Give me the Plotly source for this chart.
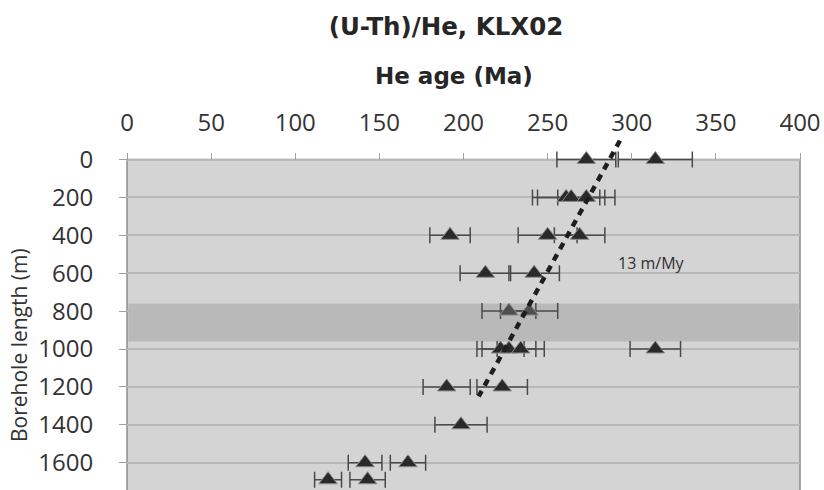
import plotly.graph_objects as go

# ---- data ----
depth_m = [0, 0,
           200, 200, 200,
           400, 400, 400,
           600, 600,
           1000, 1000, 1000, 1000,
           1200, 1200,
           1400,
           1600, 1600,
           1690, 1690]
age_ma = [273, 314,
          261, 264, 273,
          192, 250, 269,
          213, 242,
          222, 227, 234, 314,
          190, 223,
          198.5,
          141.5, 167,
          119.5, 143]
err_ma = [17.5, 22,
          20, 20, 17,
          12, 17.5, 15,
          15, 15,
          14, 16, 14, 15,
          14, 15,
          15.5,
          10, 10.5,
          8, 10.5]

# samples inside the grey zone
band_depth_m = [800, 800]
band_age_ma = [227, 239]
band_err_ma = [16, 17]

# grey zone (borehole interval)
zone_top_m = 760
zone_bottom_m = 960

# regression trend line
trend_age_ma = [293, 209]
trend_depth_m = [-100, 1250]
trend_label = "13 m/My"
trend_label_pos = (312, 546)

x_ticks = [0, 50, 100, 150, 200, 250, 300, 350, 400]
y_ticks = [0, 200, 400, 600, 800, 1000, 1200, 1400, 1600]

x_range = [0, 400]
y_range = [1744, -103]   # reversed depth axis, visible window

title_text = "(U-Th)/He, KLX02"
x_title = "He age (Ma)"
y_title = "Borehole length (m)"

# ---- figure ----
W, H = 824, 490
m_l, m_r, m_t, m_b = 127, 24, 140, 0
plot_w = W - m_l - m_r
plot_h = H - m_t - m_b
axis_px = 159.5  # pixel row of depth 0
x_pos = (H - m_b - axis_px) / plot_h


def px_to_paper_x(px):
    return (px - m_l) / plot_w


def px_to_paper_y(py):
    return (H - m_b - py) / plot_h


fig = go.Figure()

err_style = dict(type="data", symmetric=True, color="#4a4a4a", thickness=1.5, width=8)

fig.add_trace(go.Scatter(
    x=age_ma, y=depth_m, mode="markers",
    error_x=dict(array=err_ma, **err_style),
    marker=dict(symbol="triangle-up", size=16, color="#2a2a2a",
                line=dict(color="#8a8a8a", width=1)),
    showlegend=False, hoverinfo="x+y"))

fig.add_trace(go.Scatter(
    x=band_age_ma, y=band_depth_m, mode="markers",
    error_x=dict(array=band_err_ma, **err_style),
    marker=dict(symbol="triangle-up", size=16, color="#4f4f4f",
                line=dict(color="#909090", width=1)),
    showlegend=False, hoverinfo="x+y"))

fig.add_trace(go.Scatter(
    x=trend_age_ma, y=trend_depth_m, mode="lines", yaxis="y2",
    line=dict(color="#1e1e1e", width=4.5, dash="7px,6px"),
    showlegend=False, hoverinfo="skip"))

# plot area background and grey zone
fig.add_shape(type="rect", xref="x domain", yref="y", x0=0, x1=1,
              y0=0, y1=y_range[0] + 30, layer="below",
              fillcolor="#d4d4d4", line=dict(color="#8c8c8c", width=1.5))
fig.add_shape(type="rect", xref="x domain", yref="y", x0=0.002, x1=0.998,
              y0=zone_top_m, y1=zone_bottom_m, layer="below",
              fillcolor="#b9b9b9", line=dict(width=0))

fig.add_annotation(x=trend_label_pos[0], y=trend_label_pos[1], text=trend_label,
                   showarrow=False, xref="x", yref="y",
                   font=dict(family="Open Sans", size=16, color="#303030"))

fig.add_annotation(x=px_to_paper_x(19), y=px_to_paper_y(345), xref="paper", yref="paper",
                   xanchor="center", yanchor="middle",
                   text=y_title, textangle=-90, showarrow=False,
                   font=dict(family="Open Sans", size=21, color="#333333"))

fig.add_annotation(x=px_to_paper_x(454), y=px_to_paper_y(76), xref="paper", yref="paper",
                   xanchor="center", yanchor="middle",
                   text=x_title, showarrow=False,
                   font=dict(family="DejaVu Sans", size=23, color="#262626", weight="bold"))

fig.update_layout(
    width=W, height=H,
    margin=dict(l=m_l, r=m_r, t=m_t, b=m_b, pad=0),
    paper_bgcolor="white", plot_bgcolor="white",
    title=dict(text=title_text, x=446 / W, xanchor="center",
               y=1 - 26 / H, yanchor="middle", yref="container",
               font=dict(family="DejaVu Sans", size=24.5, color="#262626", weight="bold")),
    xaxis=dict(range=x_range, tickvals=x_ticks, side="top", anchor="free",
               position=x_pos, showgrid=False, zeroline=False, showline=False,
               ticks="outside", ticklen=7, tickcolor="#a0a0a0", tickwidth=1,
               ticklabelstandoff=12,
               tickfont=dict(family="Open Sans", size=24, color="#333333")),
    yaxis=dict(range=y_range, tickvals=y_ticks, showgrid=True, gridcolor="#b8b8b8",
               gridwidth=1.5, zeroline=False, showline=False,
               ticks="outside", ticklen=28, tickcolor="rgba(0,0,0,0)", tickwidth=1,
               tickfont=dict(family="Open Sans", size=24, color="#333333")),
    yaxis2=dict(range=y_range, tickvals=y_ticks, overlaying="y", anchor="x", side="left",
                showgrid=False, zeroline=False, showline=False, showticklabels=False,
                ticks="outside", ticklen=7, tickcolor="#a0a0a0", tickwidth=1),
)

fig.write_html("out.html")
